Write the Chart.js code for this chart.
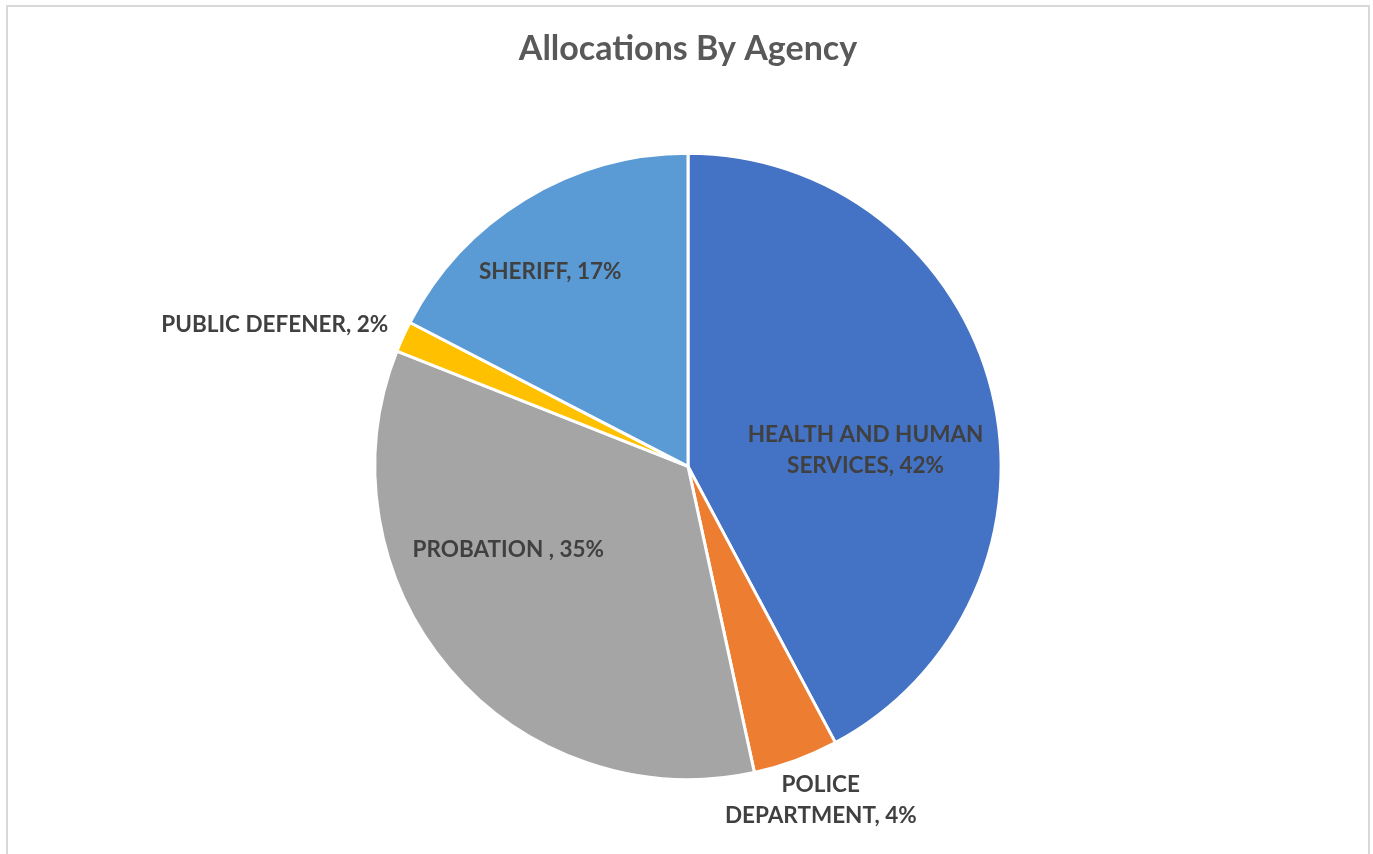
<!DOCTYPE html>
<html>
<head>
<meta charset="utf-8">
<script src="https://cdn.jsdelivr.net/npm/chart.js@4"></script>
<style>
    html, body { margin: 0; padding: 0; background: #fff; overflow: hidden; }
    #frame {
        position: absolute; left: 6px; top: 5px; width: 1360px; height: 900px;
        border: 2px solid #d9d9d9; border-bottom: none; background: #fff;
    }
    #wrap { position: absolute; left: 0; top: 0; width: 1360px; height: 847px; }
</style>
</head>
<body>
<div id="frame"><div id="wrap"><canvas id="pieChart"></canvas></div></div>
<script>
// chart data
const agencies = ['HEALTH AND HUMAN SERVICES', 'POLICE DEPARTMENT', 'PROBATION ', 'PUBLIC DEFENER', 'SHERIFF'];
const shares = [42.2, 4.4, 34.4, 1.6, 17.4];
const shareLabels = ['42%', '4%', '35%', '2%', '17%'];
const sliceColors = ['#4472C4', '#ED7D31', '#A5A5A5', '#FFC000', '#5B9BD5'];

// label text lines and where to put them (fraction of the radius, from the pie centre)
const labelLines = [
    ['HEALTH AND HUMAN', 'SERVICES, 42%'],
    ['POLICE', 'DEPARTMENT, 4%'],
    ['PROBATION , 35%'],
    ['PUBLIC DEFENER, 2%'],
    ['SHERIFF, 17%']
];
const labelSpots = [
    { x: 0.567, y: -0.05 },
    { x: 0.424, y: 1.067 },
    { x: -0.574, y: 0.266 },
    { x: -1.32, y: -0.452 },
    { x: -0.44, y: -0.622 }
];

// draws the data labels (no datalabels plugin available)
const sliceLabels = {
    id: 'sliceLabels',
    afterDatasetsDraw(chart) {
        const ctx = chart.ctx;
        const arcs = chart.getDatasetMeta(0).data;
        ctx.save();
        ctx.font = 'bold 22.5px Lato';
        ctx.fillStyle = '#404040';
        ctx.textAlign = 'center';
        ctx.textBaseline = 'middle';
        arcs.forEach((arc, i) => {
            const r = arc.outerRadius;
            const cx = arc.x + labelSpots[i].x * r;
            const cy = arc.y + labelSpots[i].y * r;
            const lines = labelLines[i];
            const lh = 31;
            lines.forEach((t, j) => {
                ctx.fillText(t, cx, cy + (j - (lines.length - 1) / 2) * lh);
            });
        });
        ctx.restore();
    }
};

document.addEventListener("DOMContentLoaded", () => {
    const pieCtx = document.getElementById('pieChart').getContext('2d');
    new Chart(pieCtx, {
        type: 'pie',
        data: {
            labels: agencies,
            datasets: [{
                label: 'Allocations',
                data: shares,
                backgroundColor: sliceColors,
                borderColor: '#ffffff',
                borderWidth: 3
            }]
        },
        options: {
            responsive: true,
            maintainAspectRatio: false,
            animation: false,
            layout: { padding: { top: 0, bottom: 73, left: 0, right: 0 } },
            plugins: {
                legend: { display: false },
                tooltip: { enabled: false },
                title: {
                    display: true,
                    text: 'Allocations By Agency',
                    color: '#595959',
                    font: { family: 'Lato', size: 34, weight: 'bold' },
                    padding: { top: 22, bottom: 82 }
                }
            }
        },
        plugins: [sliceLabels]
    });
});
</script>
</body>
</html>
